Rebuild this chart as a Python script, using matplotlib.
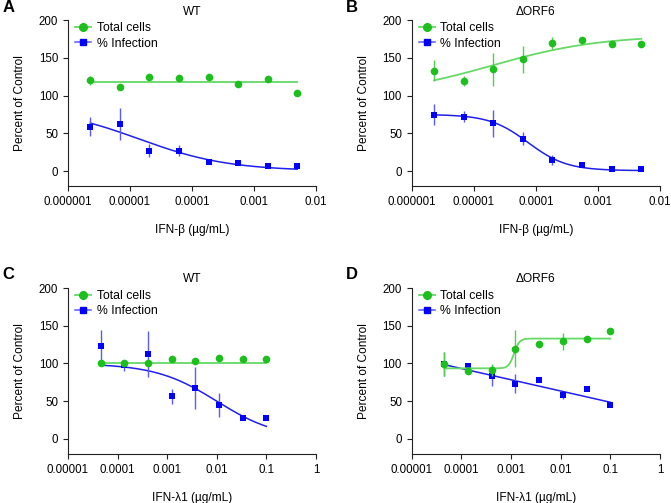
import numpy as np
import matplotlib.pyplot as plt
from matplotlib.lines import Line2D

plt.rcParams['font.family'] = ['Liberation Sans', 'DejaVu Sans']

# doses (ug/mL), 3-fold dilutions
ifnb_dose = [2.29e-6, 6.86e-6, 2.06e-5, 6.17e-5, 1.85e-4, 5.56e-4, 1.67e-3, 5.0e-3]
ifnl_dose = [4.57e-5, 1.37e-4, 4.12e-4, 1.23e-3, 3.70e-3, 1.11e-2, 3.33e-2, 1.0e-1]

# panel A: WT, IFN-beta
a_cells = [120.5, 112, 124.5, 122.7, 124.5, 115, 122, 104]
a_cells_err = [6, 1, 1, 1, 1, 3, 1, 1]
a_inf = [59, 62, 27, 27, 12, 11, 7, 7]
a_inf_err = [12, 21, 9, 7, 2, 2, 1, 1]

# panel B: dORF6, IFN-beta
b_cells = [133, 119.6, 134.7, 148, 170, 173, 168.7, 168]
b_cells_err = [14, 7, 22, 18, 8, 1, 1, 1]
b_inf = [74.6, 72, 63, 43, 14.6, 8, 2.6, 2.2]
b_inf_err = [14, 7.5, 17.5, 9, 6, 2, 1, 1]

# panel C: WT, IFN-lambda1
c_cells = [100.7, 101, 100, 106.4, 103.3, 107.3, 106.4, 105.5]
c_cells_err = [1, 2, 4, 1, 1, 1, 1, 1]
c_inf = [123, 97.6, 112.6, 56.5, 67, 45.5, 28, 28]
c_inf_err = [22, 7, 30, 10, 28, 16, 2, 2]

# panel D: dORF6, IFN-lambda1
d_cells = [98.9, 90, 91, 119.6, 125.4, 129.4, 132, 143]
d_cells_err = [16, 2, 8, 24.5, 2, 11, 3, 2]
d_inf = [99.3, 96.7, 84, 73.3, 78.6, 57.8, 66.2, 45]
d_inf_err = [16, 3, 14, 13, 2, 5, 2, 2]

# fitted curves: ('4pl', low-dose value, high-dose value, EC50, hill) or ('line', a, b)
a_cells_fit = ('4pl', 118.3, 118.3, 1e-4, 1)
a_inf_fit = ('4pl', 85, 0, 1.4e-5, 0.6)
b_cells_fit = ('4pl', 100, 180, 2e-5, 0.5)
b_inf_fit = ('4pl', 75, 0.5, 7.5e-5, 1.4)
c_cells_fit = ('4pl', 100, 100, 1e-3, 1)
c_inf_fit = ('4pl', 100, 0, 0.01, 0.7)
d_cells_fit = ('4pl', 93.5, 133, 0.00115, 8)
d_inf_fit = ('line', 33.7, -14.9)

ifnb_ticks = [1e-6, 1e-5, 1e-4, 1e-3, 1e-2]
ifnb_labels = ['0.000001', '0.00001', '0.0001', '0.001', '0.01']
ifnl_ticks = [1e-5, 1e-4, 1e-3, 1e-2, 1e-1, 1]
ifnl_labels = ['0.00001', '0.0001', '0.001', '0.01', '0.1', '1']

GREEN = '#1cbf1c'
GREEN_LINE = '#66d966'
GREEN_ERR = '#55cc55'
BLUE = '#0000ff'
BLUE_LINE = '#2020ee'
BLUE_ERR = '#5a5aff'


def fit_curve(fit, x):
    if fit[0] == 'line':
        return fit[1] + fit[2] * np.log10(x)
    _, y0, y1, ec50, hill = fit
    return y0 + (y1 - y0) / (1 + (ec50 / x) ** hill)


def draw_panel(ax, dose, cells, cells_err, inf, inf_err, cells_fit, inf_fit,
               title, xlabel, ticks, labels, letter):
    xs = np.logspace(np.log10(dose[0]), np.log10(dose[-1]), 300)
    ax.plot(xs, fit_curve(inf_fit, xs), color=BLUE_LINE, lw=1.1, zorder=2)
    ax.errorbar(dose, inf, yerr=inf_err, fmt='s', color=BLUE, ms=5, mew=0,
                ecolor=BLUE_ERR, elinewidth=1, capsize=2.5, capthick=1,
                zorder=3, clip_on=False)
    ax.plot(xs, fit_curve(cells_fit, xs), color=GREEN_LINE, lw=1.3, zorder=4)
    ax.errorbar(dose, cells, yerr=cells_err, fmt='o', color=GREEN, ms=5.5, mew=0,
                ecolor=GREEN_ERR, elinewidth=1, capsize=2.5, capthick=1,
                zorder=5, clip_on=False)

    ax.set_xscale('log')
    ax.set_xlim(ticks[0], ticks[-1])
    ax.set_ylim(-20, 200)
    ax.set_yticks([0, 50, 100, 150, 200])
    ax.set_xticks(ticks, labels)
    ax.minorticks_off()
    for s in ['top', 'right']:
        ax.spines[s].set_visible(False)
    ax.spines['left'].set_bounds(-20, 200)
    for s in ['left', 'bottom']:
        ax.spines[s].set_linewidth(0.8)
        ax.spines[s].set_color('#222222')
    ax.tick_params(axis='both', labelsize=8.3, width=0.8, length=3.5, color='#222222')
    ax.set_ylabel('Percent of Control', fontsize=8.6, labelpad=9)
    ax.set_xlabel(xlabel, fontsize=8.6, labelpad=11.5)
    ax.set_title(title, fontsize=8.6, pad=4)

    handles = [
        Line2D([], [], color=GREEN_LINE, lw=1.3, marker='o', ms=5.5,
               mfc=GREEN, mec=GREEN),
        Line2D([], [], color=BLUE_ERR, lw=1.1, marker='s', ms=5,
               mfc=BLUE, mec=BLUE),
    ]
    ax.legend(handles, ['Total cells', '% Infection'], loc='upper left',
              bbox_to_anchor=(0.0, 1.03), frameon=False, fontsize=8.8,
              handlelength=1.3, handletextpad=0.45, labelspacing=0.25,
              borderaxespad=0.2)

    pos = ax.get_position()
    ax.figure.text(pos.x0 - 0.098, pos.y1 + 0.026, letter, fontsize=12,
                   fontweight='bold', va='center', ha='left')


fig = plt.figure(figsize=(6.71, 5.03), dpi=100)
ax_a = fig.add_axes([0.1013, 0.630, 0.3696, 0.330])
ax_b = fig.add_axes([0.6136, 0.630, 0.370, 0.330])
ax_c = fig.add_axes([0.1013, 0.0974, 0.3696, 0.330])
ax_d = fig.add_axes([0.6136, 0.0974, 0.370, 0.330])

draw_panel(ax_a, ifnb_dose, a_cells, a_cells_err, a_inf, a_inf_err,
           a_cells_fit, a_inf_fit, 'WT', 'IFN-β (µg/mL)',
           ifnb_ticks, ifnb_labels, 'A')
draw_panel(ax_b, ifnb_dose, b_cells, b_cells_err, b_inf, b_inf_err,
           b_cells_fit, b_inf_fit, 'ΔORF6', 'IFN-β (µg/mL)',
           ifnb_ticks, ifnb_labels, 'B')
draw_panel(ax_c, ifnl_dose, c_cells, c_cells_err, c_inf, c_inf_err,
           c_cells_fit, c_inf_fit, 'WT', 'IFN-λ1 (µg/mL)',
           ifnl_ticks, ifnl_labels, 'C')
draw_panel(ax_d, ifnl_dose, d_cells, d_cells_err, d_inf, d_inf_err,
           d_cells_fit, d_inf_fit, 'ΔORF6', 'IFN-λ1 (µg/mL)',
           ifnl_ticks, ifnl_labels, 'D')

plt.savefig('out.png', dpi=100)
plt.close(fig)
